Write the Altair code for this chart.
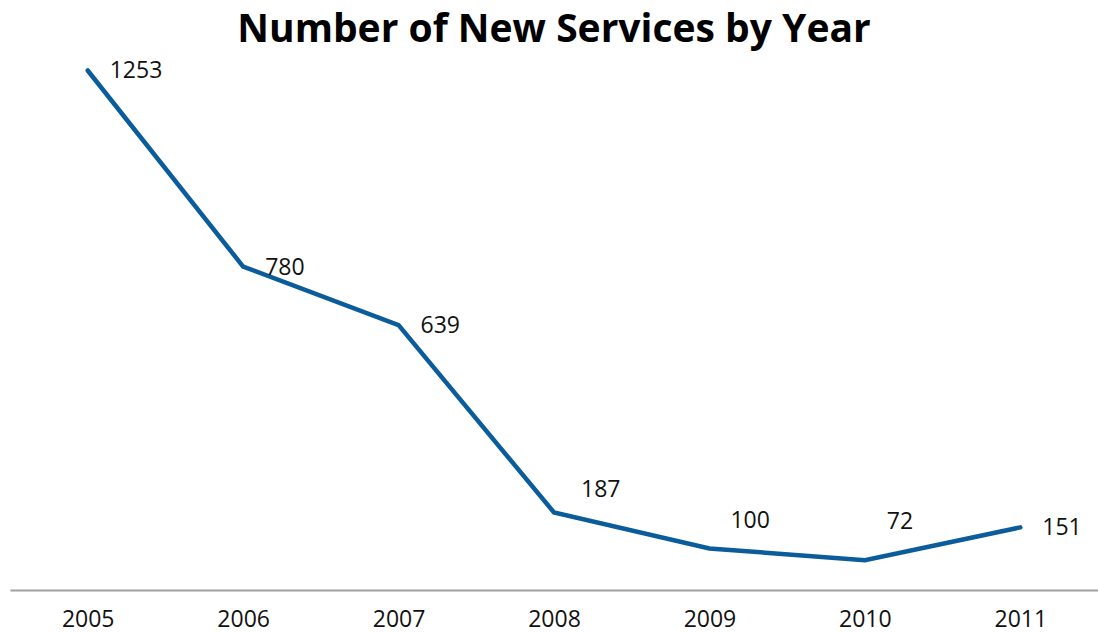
import altair as alt
import pandas as pd

years = ["2005", "2006", "2007", "2008", "2009", "2010", "2011"]
services = [1253, 780, 639, 187, 100, 72, 151]

df = pd.DataFrame({"year": years, "count": services})

FONT = "Open Sans"
COLOR = "#0b5c9b"

x = alt.X("year:N", sort=years, title=None,
          scale=alt.Scale(paddingInner=0, paddingOuter=0, align=0.5),
          axis=alt.Axis(labelAngle=0, labelFontSize=23, labelFont=FONT, labelColor="#111111",
                        labelPadding=18, ticks=False, domainColor="#a0a0a0", domainWidth=2,
                        grid=False))
y = alt.Y("count:Q", title=None, scale=alt.Scale(domain=[0, 1300], nice=False),
          axis=None)

base = alt.Chart(df).encode(x=x, y=y)

line = base.mark_line(color=COLOR, strokeWidth=4.5, strokeCap="round", strokeJoin="miter")

def labels(sel, dx, dy):
    return base.transform_filter(
        alt.FieldOneOfPredicate(field="year", oneOf=sel)
    ).mark_text(align="left", baseline="middle", dx=dx, dy=dy, fontSize=23,
                font=FONT, color="#111111").encode(text="count:Q")

chart = alt.layer(
    line,
    labels(["2005", "2006", "2007", "2011"], 22, 1),
    labels(["2008"], 27, -22),
    labels(["2009"], 21, -28),
    labels(["2010"], 22, -38),
).properties(
    width=1088, height=539,
    title=alt.TitleParams("Number of New Services by Year", font=FONT, fontSize=39,
                          fontWeight="bold", color="#000000", anchor="middle", offset=1),
    autosize=alt.AutoSizeParams(type="none"),
    padding={"left": 10, "top": 51, "right": 0, "bottom": 42},
).configure_view(stroke=None)

chart.save("out.html", embed_options={"renderer": "svg", "actions": False})
